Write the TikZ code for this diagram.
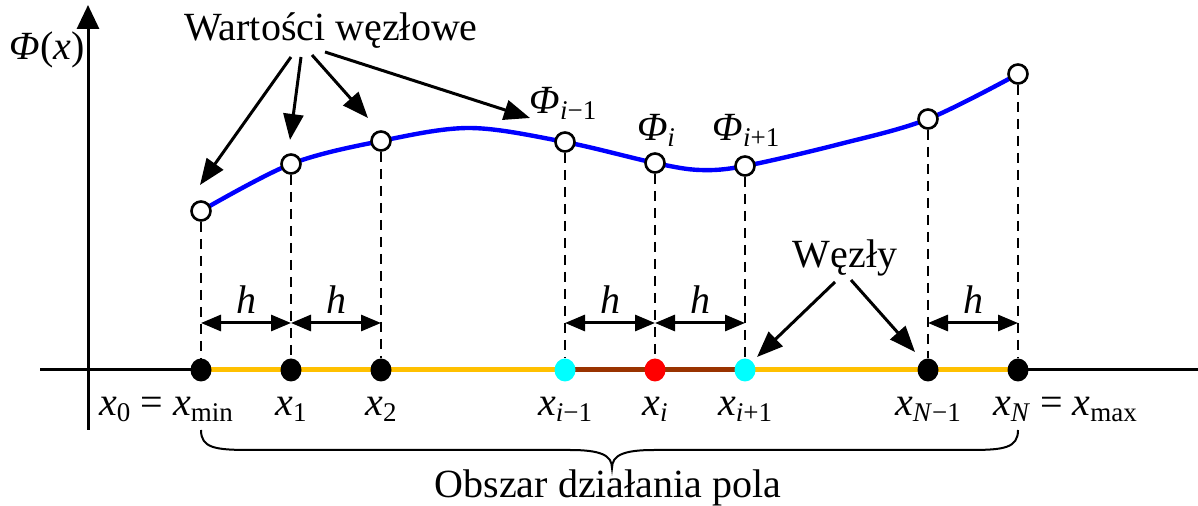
\documentclass[tikz,border=0pt]{standalone}
\usepackage{fontspec}
\setmainfont{Liberation Serif}
\usetikzlibrary{arrows.meta,shapes.geometric}
\definecolor{curveblue}{RGB}{0,0,255}
\definecolor{segyellow}{RGB}{255,192,0}
\definecolor{segbrown}{RGB}{153,51,0}
\definecolor{dotcyan}{RGB}{0,255,255}
\definecolor{dotred}{RGB}{255,0,0}
\newcommand\lowsub[1]{\raisebox{-3pt}{\fontsize{13.5}{14}\selectfont #1}}
\newcommand\vx[1]{\textit{x}\lowsub{#1}}
\newcommand\vphi[1]{\textit{Φ}\lowsub{#1}}
\begin{document}
\begin{tikzpicture}[x=0.5pt,y=-0.5pt,
  font=\fontsize{20}{24}\selectfont,
  axisline/.style={line width=1.5pt,black},
  seg/.style={line width=2.5pt},
  curveline/.style={line width=2.2pt,curveblue},
  dashline/.style={line width=1.2pt,dash pattern=on 5pt off 3.5pt},
  dotnode/.style={ellipse,minimum width=10.5pt,minimum height=11.5pt,inner sep=0pt,fill=#1},
  opencirc/.style={circle,minimum size=9.5pt,inner sep=0pt,draw=black,line width=1.3pt,fill=white},
  harrow/.style={line width=1.5pt,{Triangle[length=10pt,width=8pt]}-{Triangle[length=10pt,width=8pt]}},
  bigarrow/.style={line width=1.5pt,-{Triangle[length=13pt,width=10pt]}},
  lbl/.style={inner sep=0pt}]
\useasboundingbox (0,0) rectangle (1198,506);
% axes
\coordinate (yb) at (88,430);
\coordinate (yt) at (88,5);
\draw[axisline,-{Triangle[length=12pt,width=11pt]}] (yb) -- (yt);
\coordinate (xl) at (40,370);
\coordinate (xr) at (1198,370);
\draw[axisline] (xl) -- (xr);
% positions on axis
\foreach \n/\xx in {0/201,1/291,2/381,3/565,4/655,5/745,6/928,7/1018}
  \coordinate (p\n) at (\xx,370);
\draw[seg,segyellow] (p0) -- (p3);
\draw[seg,segbrown] (p3) -- (p5);
\draw[seg,segyellow] (p5) -- (p7);
% curve
\draw[curveline] plot[smooth,tension=0.55] coordinates
  {(201,211) (291,164) (381,141) (470,128) (565,142) (655,163) (700,170) (745,166) (840,144) (928,119) (1018,74)};
% curve nodes
\node[opencirc] (c0) at (201,211) {};
\node[opencirc] (c1) at (291,164) {};
\node[opencirc] (c2) at (381,141) {};
\node[opencirc] (c3) at (565,142) {};
\node[opencirc] (c4) at (655,163) {};
\node[opencirc] (c5) at (745,166) {};
\node[opencirc] (c6) at (928,119) {};
\node[opencirc] (c7) at (1018,74) {};
% dots
\node[dotnode=black] (d0) at (p0) {};
\node[dotnode=black] (d1) at (p1) {};
\node[dotnode=black] (d2) at (p2) {};
\node[dotnode=dotcyan] (d3) at (p3) {};
\node[dotnode=dotred] (d4) at (p4) {};
\node[dotnode=dotcyan] (d5) at (p5) {};
\node[dotnode=black] (d6) at (p6) {};
\node[dotnode=black] (d7) at (p7) {};
% dashed verticals
\foreach \n in {0,...,7}
  \draw[dashline] (c\n) -- (d\n);
% h arrows
\coordinate (hy) at (0,323);
\draw[harrow] (p0 |- hy) -- (p1 |- hy);
\draw[harrow] (p1 |- hy) -- (p2 |- hy);
\draw[harrow] (p3 |- hy) -- (p4 |- hy);
\draw[harrow] (p4 |- hy) -- (p5 |- hy);
\draw[harrow] (p6 |- hy) -- (p7 |- hy);
\node[lbl] (h0) at (246,300) {\textit{h}};
\node[lbl] (h1) at (336,300) {\textit{h}};
\node[lbl] (h2) at (610,300) {\textit{h}};
\node[lbl] (h3) at (700,300) {\textit{h}};
\node[lbl] (h4) at (973,300) {\textit{h}};
% axis labels
\node[lbl] (phix) at (47,50) {\textit{Φ}(\textit{x})};
\node[lbl,anchor=base] (l0) at (166,416) {\vx{0} = \vx{min}};
\node[lbl,anchor=base] (l1) at (291,416) {\vx{1}};
\node[lbl,anchor=base] (l2) at (381,416) {\vx{2}};
\node[lbl,anchor=base] (l3) at (565,416) {\vx{\textit{i}−1}};
\node[lbl,anchor=base] (l4) at (655,416) {\vx{\textit{i}}};
\node[lbl,anchor=base] (l5) at (745,416) {\vx{\textit{i}+1}};
\node[lbl,anchor=base] (l6) at (928,416) {\vx{\textit{N}−1}};
\node[lbl,anchor=base] (l7) at (1065,416) {\vx{\textit{N}} = \vx{max}};
% phi labels
\node[lbl] (f3) at (563,103) {\vphi{\textit{i}−1}};
\node[lbl] (f4) at (656,130) {\vphi{\textit{i}}};
\node[lbl] (f5) at (746,130) {\vphi{\textit{i}+1}};
% Wartosci wezlowe
\node[lbl] (wv) at (331,31) {Wartości węzłowe};
\coordinate (w0) at (291,57);
\coordinate (w1) at (301,57);
\coordinate (w2) at (312,55);
\coordinate (w3) at (325,52);
\coordinate (t0) at (200,185);
\coordinate (t1) at (290,140);
\coordinate (t2) at (368,118);
\coordinate (t3) at (530,118);
\draw[bigarrow] (w0) -- (t0);
\draw[bigarrow] (w1) -- (t1);
\draw[bigarrow] (w2) -- (t2);
\draw[bigarrow] (w3) -- (t3);
% Wezly
\node[lbl] (wz) at (845,258) {Węzły};
\coordinate (z0) at (835,282);
\coordinate (z1) at (851,280);
\coordinate (s0) at (757,357);
\coordinate (s1) at (915,352);
\draw[bigarrow] (z0) -- (s0);
\draw[bigarrow] (z1) -- (s1);
% brace
\coordinate (b0) at (201,430);
\coordinate (b1) at (1018,430);
\coordinate (bm) at (612,468);
\draw[line width=1pt] (b0) .. controls (201,448) and (215,450) .. (250,450)
  -- (570,450) .. controls (600,450) and (612,455) .. (bm)
  .. controls (612,455) and (624,450) .. (654,450)
  -- (970,450) .. controls (1004,450) and (1018,448) .. (b1);
\node[lbl] (obs) at (608,488) {Obszar działania pola};
\end{tikzpicture}
\end{document}
